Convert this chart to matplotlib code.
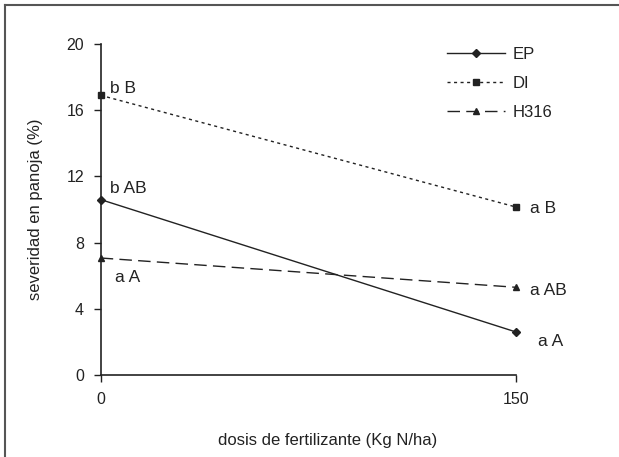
import matplotlib
matplotlib.use("Agg")
import matplotlib.pyplot as plt
from matplotlib.lines import Line2D

plt.rcParams['font.family'] = ['Liberation Sans', 'DejaVu Sans']

# data
dosis = [0, 150]
series = ["EP", "DI", "H316"]
ep = [10.6, 2.6]
di = [16.9, 10.15]
h316 = [7.07, 5.3]
etiquetas_ep = ["b AB", "a A"]
etiquetas_di = ["b B", "a B"]
etiquetas_h316 = ["a A", "a AB"]
yticks = [0, 4, 8, 12, 16, 20]
xticks = [0, 150]

ink = "#222222"

fig = plt.figure(figsize=(6.19, 4.57), dpi=100)
ax = fig.add_axes([0.1627, 0.1794, 0.6709, 0.7243])

ax.plot(dosis, ep, color=ink, lw=1.0, ls="-", marker="D", ms=4.5,
        label=series[0], clip_on=False)
ax.plot(dosis, di, color=ink, lw=1.0, ls=(0, (2.2, 2.5)), marker="s", ms=5,
        label=series[1], clip_on=False)
ax.plot(dosis, h316, color=ink, lw=1.0, ls=(0, (9, 4.5)), marker="^", ms=5,
        label=series[2], clip_on=False)

# significance letters, offsets in pixels from each point
offs_ep = [(9, 11), (22, -10)]
offs_di = [(9, 7), (14, -1)]
offs_h316 = [(14, -19), (14, -3)]
for vals, labs, offs in [(ep, etiquetas_ep, offs_ep), (di, etiquetas_di, offs_di),
                         (h316, etiquetas_h316, offs_h316)]:
    for x, y, t, o in zip(dosis, vals, labs, offs):
        ax.annotate(t, (x, y), xytext=o, textcoords="offset pixels",
                    ha="left", va="center", fontsize=12.5, color=ink)

ax.set_xlim(0, 150)
ax.set_ylim(0, 20)
ax.set_xticks(xticks)
ax.set_yticks(yticks)
ax.tick_params(direction="out", length=5, width=1, colors=ink, labelsize=11.5, pad=7)
for s in ["top", "right"]:
    ax.spines[s].set_visible(False)
for s in ["left", "bottom"]:
    ax.spines[s].set_color(ink)
    ax.spines[s].set_linewidth(1.2)

ax.set_xlabel("dosis de fertilizante (Kg N/ha)", fontsize=12, color=ink)
ax.set_ylabel("severidad en panoja (%)", fontsize=12, color=ink)
ax.xaxis.set_label_coords(0.547, -0.175)
ax.yaxis.set_label_coords(-0.14, 0.5)

ax.legend(loc="upper left", bbox_to_anchor=(0.817, 1.012), frameon=False,
          fontsize=12, handlelength=3.5, handletextpad=0.45, labelspacing=0.85,
          borderaxespad=0, labelcolor=ink)

# partial outer frame (top and left edges only)
fig.add_artist(Line2D([5 / 619, 1], [1 - 5 / 457] * 2, transform=fig.transFigure,
                      color="#555555", lw=1.5))
fig.add_artist(Line2D([5 / 619] * 2, [0, 1 - 5 / 457], transform=fig.transFigure,
                      color="#555555", lw=1.5))

fig.savefig("out.png", dpi=100)
